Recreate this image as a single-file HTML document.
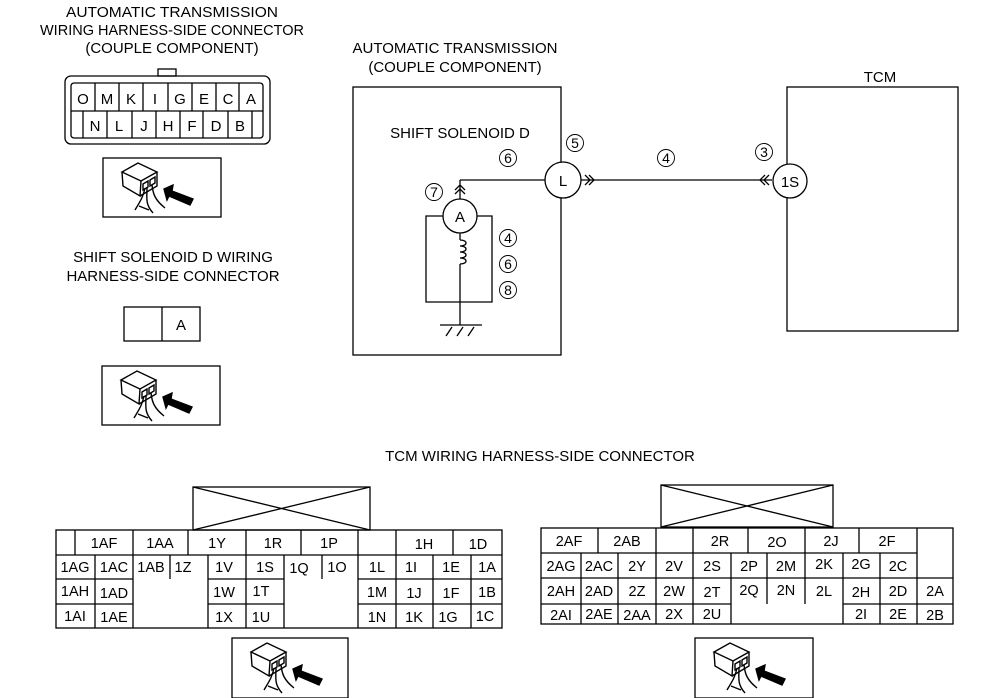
<!DOCTYPE html>
<html><head><meta charset="utf-8"><style>body{margin:0;background:#fff}svg{display:block}text{font-family:"Liberation Sans",Arial,sans-serif;fill:#000}</style></head><body>
<svg width="988" height="698" viewBox="0 0 988 698" xmlns="http://www.w3.org/2000/svg">
<defs>
<g id="ic" fill="none" stroke="#000" stroke-width="1.4">
<path d="M19 14 L35 5 L54 14 L38 23 Z" fill="#fff"/>
<path d="M19 14 L20 28 L37 38 L38 23 M37 38 L54 28 L54 14"/>
<path d="M40 26 L45 23 L45 29 L40 32 Z M47 22 L52 19 L52 25 L47 28 Z"/>
<path d="M42 30 C40 40 36 45 32 52 M44 30 C44 40 42 46 50 55 M49 27 C50 36 52 42 62 50 M36 48 L46 52"/>
<path d="M61 31 L70 27 L69 33 L90 41 L87 47 L66 38 L64 42 Z" fill="#000"/>
</g>
</defs>
<g font-size="15" text-anchor="middle">
<text x="172" y="17" textLength="212" lengthAdjust="spacingAndGlyphs">AUTOMATIC TRANSMISSION</text>
<text x="172" y="35" textLength="264" lengthAdjust="spacingAndGlyphs">WIRING HARNESS-SIDE CONNECTOR</text>
<text x="172" y="53">(COUPLE COMPONENT)</text>
<text x="173" y="262">SHIFT SOLENOID D WIRING</text>
<text x="173" y="281">HARNESS-SIDE CONNECTOR</text>
<text x="455" y="53">AUTOMATIC TRANSMISSION</text>
<text x="455" y="72">(COUPLE COMPONENT)</text>
<text x="460" y="138">SHIFT SOLENOID D</text>
<text x="880" y="82">TCM</text>
<text x="540" y="461">TCM WIRING HARNESS-SIDE CONNECTOR</text>
</g>
<g fill="none" stroke="#000" stroke-width="1.3">
<rect x="158" y="69" width="18" height="7" fill="#fff"/>
<rect x="65" y="76" width="205" height="68" rx="6"/>
<rect x="71" y="83" width="192" height="55" rx="3"/>
<path d="M71 111H263 M95 83V111M119 83V111M143 83V111M168 83V111M192 83V111M216 83V111M239 83V111 M83 111V138M107 111V138M132 111V138M156 111V138M180 111V138M203 111V138M228 111V138M252 111V138"/>
<rect x="103" y="158" width="118" height="59"/>
<rect x="124" y="307" width="76" height="34"/><path d="M162 307V341"/>
<rect x="102" y="366" width="118" height="59"/>
<rect x="353" y="87" width="208" height="268"/>
<rect x="787" y="87" width="171" height="244"/>
<path d="M460 180H545 M581 180H772 M460 180V199"/>
<path d="M455 190L460 185L465 190M455 194L460 189L465 194"/>
<path d="M585 175L590 180L585 185M589 175L594 180L589 185"/>
<path d="M769 175L764 180L769 185M765 175L760 180L765 185"/>
<circle cx="563" cy="180" r="18" fill="#fff"/>
<circle cx="790" cy="181" r="17" fill="#fff"/>
<circle cx="460" cy="216" r="17" fill="#fff"/>
<path d="M443 216H426V302H492V216H477 M460 233V240 M460 240c8 0 8 6 0 6c8 0 8 6 0 6c8 0 8 6 0 6c8 0 8 6 0 6 M460 264V325 M440 325H482 M446 336L452 327M457 336L463 327M468 336L474 327"/>
</g>
<g font-size="15" text-anchor="middle">
<text x="563" y="186">L</text><text x="790" y="187">1S</text><text x="460" y="222">A</text>
<text x="83" y="104">O</text><text x="107" y="104">M</text><text x="131" y="104">K</text><text x="155" y="104">I</text><text x="180" y="104">G</text><text x="204" y="104">E</text><text x="228" y="104">C</text><text x="251" y="104">A</text>
<text x="95" y="131">N</text><text x="119" y="131">L</text><text x="144" y="131">J</text><text x="168" y="131">H</text><text x="192" y="131">F</text><text x="216" y="131">D</text><text x="240" y="131">B</text>
<text x="181" y="330">A</text>
</g>
<g fill="none" stroke="#000" stroke-width="0.9">
<circle cx="508" cy="158" r="8.5"/><circle cx="575" cy="143" r="8.5"/><circle cx="434" cy="192" r="8.5"/><circle cx="666" cy="158" r="8.5"/><circle cx="764" cy="152" r="8.5"/>
<circle cx="508" cy="238" r="8.5"/><circle cx="508" cy="264" r="8.5"/><circle cx="508" cy="290" r="8.5"/>
</g>
<g font-size="14" text-anchor="middle">
<text x="508" y="163">6</text><text x="575" y="148">5</text><text x="434" y="197">7</text><text x="666" y="163">4</text><text x="764" y="157">3</text>
<text x="508" y="243">4</text><text x="508" y="269">6</text><text x="508" y="295">8</text>
</g>
<g fill="none" stroke="#000" stroke-width="1.3">
<rect x="193" y="487" width="177" height="43"/><path d="M193 487L370 530M370 487L193 530"/>
<rect x="56" y="530" width="446" height="98"/>
<path d="M56 555H502M56 579H133M208 579H284M358 579H502M56 604H133M208 604H284M358 604H502
M75 530V555M133 530V555M188 530V555M246 530V555M301 530V555M358 530V555M396 530V555M453 530V555
M95 555V628M133 555V628M170 555V579M208 555V628M246 555V628M284 555V628M322 555V579M358 555V628M396 555V628M433 555V628M471 555V628"/>
<rect x="232" y="638" width="116" height="60"/>
</g>
<g font-size="14.5" text-anchor="middle">
<text x="104" y="548">1AF</text><text x="160" y="548">1AA</text><text x="217" y="548">1Y</text><text x="273" y="548">1R</text><text x="329" y="548">1P</text><text x="424" y="549">1H</text><text x="478" y="549">1D</text>
<text x="75" y="572">1AG</text><text x="114" y="572">1AC</text><text x="151" y="572">1AB</text><text x="183" y="572">1Z</text><text x="224" y="572">1V</text><text x="265" y="572">1S</text><text x="299" y="573">1Q</text><text x="337" y="572">1O</text><text x="377" y="572">1L</text><text x="411" y="572">1I</text><text x="451" y="572">1E</text><text x="487" y="572">1A</text>
<text x="75" y="596">1AH</text><text x="114" y="598">1AD</text><text x="224" y="597">1W</text><text x="261" y="596">1T</text><text x="377" y="597">1M</text><text x="414" y="598">1J</text><text x="451" y="598">1F</text><text x="487" y="597">1B</text>
<text x="75" y="621">1AI</text><text x="114" y="622">1AE</text><text x="224" y="622">1X</text><text x="261" y="622">1U</text><text x="377" y="622">1N</text><text x="414" y="622">1K</text><text x="448" y="622">1G</text><text x="485" y="621">1C</text>
</g>
<g fill="none" stroke="#000" stroke-width="1.3">
<rect x="661" y="485" width="172" height="42"/><path d="M661 485L833 527M833 485L661 527"/>
<rect x="541" y="528" width="412" height="96"/>
<path d="M541 553H917M541 578H953M541 604H731M843 604H953
M598 528V553M656 528V553M693 528V553M748 528V553M805 528V553M859 528V553M917 528V624
M581 553V624M618 553V624M656 553V624M693 553V624M731 553V624M767 553V604M805 553V604M843 553V624M880 553V624"/>
<rect x="695" y="638" width="118" height="60"/>
</g>
<g font-size="14.5" text-anchor="middle">
<text x="569" y="546">2AF</text><text x="627" y="546">2AB</text><text x="720" y="546">2R</text><text x="777" y="547">2O</text><text x="831" y="546">2J</text><text x="887" y="546">2F</text>
<text x="561" y="571">2AG</text><text x="599" y="571">2AC</text><text x="637" y="571">2Y</text><text x="674" y="571">2V</text><text x="712" y="571">2S</text><text x="749" y="571">2P</text><text x="786" y="571">2M</text><text x="824" y="569">2K</text><text x="861" y="569">2G</text><text x="898" y="571">2C</text>
<text x="561" y="596">2AH</text><text x="599" y="596">2AD</text><text x="637" y="596">2Z</text><text x="674" y="596">2W</text><text x="712" y="597">2T</text><text x="749" y="595">2Q</text><text x="786" y="595">2N</text><text x="824" y="596">2L</text><text x="861" y="597">2H</text><text x="898" y="596">2D</text><text x="935" y="596">2A</text>
<text x="561" y="620">2AI</text><text x="599" y="619">2AE</text><text x="637" y="620">2AA</text><text x="674" y="619">2X</text><text x="712" y="619">2U</text><text x="861" y="619">2I</text><text x="898" y="619">2E</text><text x="935" y="620">2B</text>
</g>
<use href="#ic" x="103" y="158"/><use href="#ic" x="102" y="366"/><use href="#ic" x="232" y="638"/><use href="#ic" x="695" y="638"/>
</svg>
</body></html>
